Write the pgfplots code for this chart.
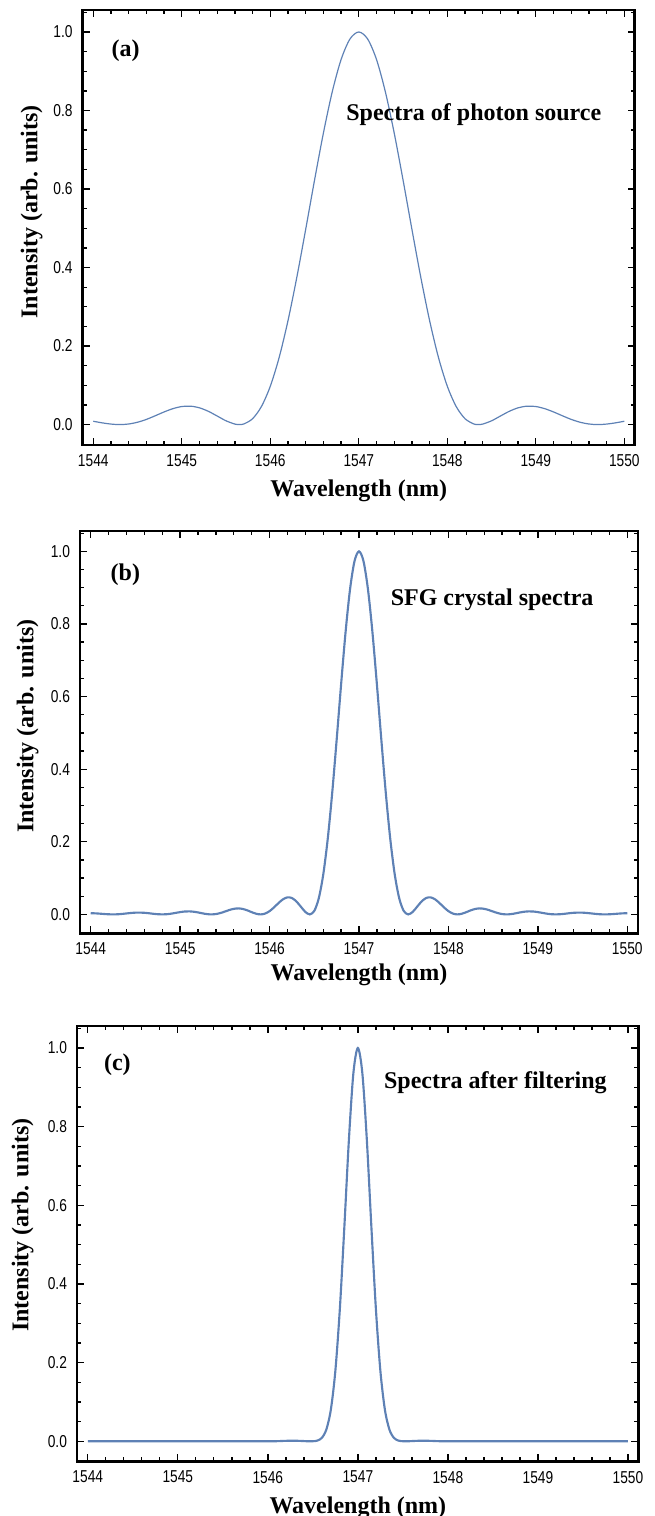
\documentclass[border=0pt]{standalone}
\usepackage{fontspec}
\setmainfont{Liberation Serif}
\newfontfamily\tickfont{Liberation Sans}
\usepackage{graphicx}
\usepackage{pgfplots}
\pgfplotsset{compat=1.18}

\definecolor{mma}{RGB}{94,129,181}
\newcommand{\tl}[1]{{\tickfont\fontsize{12.9}{14}\selectfont\scalebox{0.8}[1]{#1}}}
\newcommand{\bigbold}{\fontsize{18}{20}\selectfont\bfseries}

\pgfplotsset{
  spec/.style={
    scale only axis,
    anchor=north west,
    xmin=1543.88, xmax=1550.12,
    ymin=-0.052, ymax=1.056,
    xtick={1544,1545,1546,1547,1548,1549,1550},
    xticklabels={\tl{1544},\tl{1545},\tl{1546},\tl{1547},\tl{1548},\tl{1549},\tl{1550}},
    ytick={0,0.2,0.4,0.6,0.8,1},
    yticklabels={\tl{0.0},\tl{0.2},\tl{0.4},\tl{0.6},\tl{0.8},\tl{1.0}},
    minor x tick num=4,
    minor ytick={-0.05,0.05,0.1,0.15,0.25,0.3,0.35,0.45,0.5,0.55,0.65,0.7,0.75,0.85,0.9,0.95,1.05},
    tick align=inside,
    major tick length=5.5pt,
    minor tick length=3.2pt,
    tick style={black, line width=1pt},
    axis line style={line width=2.2pt},
    every outer x axis line/.append style={line width=2.2pt},
    every outer y axis line/.append style={line width=2.2pt},
    xticklabel style={yshift=-3.5pt},
    yticklabel style={xshift=-4pt},
    xlabel={Wavelength (nm)},
    ylabel={Intensity (arb. units)},
    label style={font=\bigbold},
    xlabel style={at={(axis description cs:0.5,-0.118)}, anchor=base},
  },
  curve/.style={color=mma, smooth, no markers},
}

\begin{document}
\begin{tikzpicture}

% (a) photon source
\begin{axis}[spec, width=414.2pt, height=326.25pt, at={(62pt,-7.5pt)},
  ylabel style={at={(axis description cs:-0.0822,0.536)}, anchor=base}]
\addplot[curve, line width=0.9pt] coordinates {
(1544.0,0.0085) (1544.1,0.0044) (1544.2,0.0013) (1544.3,0) (1544.4,0.0015)
(1544.5,0.0060) (1544.6,0.0132) (1544.7,0.0225) (1544.8,0.0322) (1544.9,0.0406)
(1545.0,0.0460) (1545.1,0.0469) (1545.2,0.0427) (1545.3,0.0338) (1545.4,0.0218)
(1545.5,0.0096) (1545.6,0.0013) (1545.65,0) (1545.7,0.0015) (1545.8,0.0150)
(1545.9,0.0461) (1546.0,0.0977) (1546.1,0.1710) (1546.2,0.2648) (1546.3,0.3756)
(1546.4,0.4975) (1546.5,0.6228) (1546.6,0.7426) (1546.7,0.8477) (1546.8,0.9299)
(1546.9,0.9821) (1547.0,1)
(1547.1,0.9821) (1547.2,0.9299) (1547.3,0.8477) (1547.4,0.7426) (1547.5,0.6228)
(1547.6,0.4975) (1547.7,0.3756) (1547.8,0.2648) (1547.9,0.1710) (1548.0,0.0977)
(1548.1,0.0461) (1548.2,0.0150) (1548.3,0.0015) (1548.35,0) (1548.4,0.0013)
(1548.5,0.0096) (1548.6,0.0218) (1548.7,0.0338) (1548.8,0.0427) (1548.9,0.0469)
(1549.0,0.0460) (1549.1,0.0406) (1549.2,0.0322) (1549.3,0.0225) (1549.4,0.0132)
(1549.5,0.0060) (1549.6,0.0015) (1549.7,0) (1549.8,0.0013) (1549.9,0.0044)
(1550.0,0.0085)
};
\node[anchor=base west, font=\bigbold] at (axis cs:1544.155,0.938) {(a)};
\node[anchor=base west, font=\bigbold] at (axis cs:1546.806,0.775) {Spectra of photon source};
\end{axis}

% (b) SFG crystal
\begin{axis}[spec, width=418.5pt, height=301.7pt, at={(60pt,-398.25pt)},
  ylabel style={at={(axis description cs:-0.0837,0.515)}, anchor=base}]
\addplot[curve, line width=1.6pt] coordinates {
(1544.00,0.0033) (1544.05,0.0029) (1544.10,0.0021) (1544.15,0.0011) (1544.20,0.0003)
(1544.25,0) (1544.30,0.0003) (1544.35,0.0013) (1544.40,0.0026) (1544.45,0.0039)
(1544.50,0.0048) (1544.55,0.0050) (1544.60,0.0044) (1544.65,0.0032) (1544.70,0.0017)
(1544.75,0.0005) (1544.80,0) (1544.85,0.0005) (1544.90,0.0020) (1544.95,0.0042)
(1545.00,0.0063) (1545.05,0.0079) (1545.10,0.0083) (1545.15,0.0074) (1545.20,0.0054)
(1545.25,0.0029) (1545.30,0.0008) (1545.35,0) (1545.40,0.0010) (1545.45,0.0037)
(1545.50,0.0078) (1545.55,0.0121) (1545.60,0.0153) (1545.65,0.0165) (1545.70,0.0150)
(1545.75,0.0112) (1545.80,0.0062) (1545.85,0.0018) (1545.90,0) (1545.95,0.0022)
(1546.00,0.0090) (1546.05,0.0194) (1546.10,0.0313) (1546.15,0.0416) (1546.20,0.0469)
(1546.25,0.0451) (1546.30,0.0357) (1546.35,0.0212) (1546.40,0.0068) (1546.45,0)
(1546.50,0.0097) (1546.55,0.0442) (1546.60,0.1094) (1546.65,0.2070) (1546.70,0.3337)
(1546.75,0.4805) (1546.80,0.6340) (1546.85,0.7780) (1546.90,0.8959) (1546.95,0.9732)
(1547.00,1)
(1547.05,0.9732) (1547.10,0.8959) (1547.15,0.7780) (1547.20,0.6340) (1547.25,0.4805)
(1547.30,0.3337) (1547.35,0.2070) (1547.40,0.1094) (1547.45,0.0442) (1547.50,0.0097)
(1547.55,0) (1547.60,0.0068) (1547.65,0.0212) (1547.70,0.0357) (1547.75,0.0451)
(1547.80,0.0469) (1547.85,0.0416) (1547.90,0.0313) (1547.95,0.0194) (1548.00,0.0090)
(1548.05,0.0022) (1548.10,0) (1548.15,0.0018) (1548.20,0.0062) (1548.25,0.0112)
(1548.30,0.0150) (1548.35,0.0165) (1548.40,0.0153) (1548.45,0.0121) (1548.50,0.0078)
(1548.55,0.0037) (1548.60,0.0010) (1548.65,0) (1548.70,0.0008) (1548.75,0.0029)
(1548.80,0.0054) (1548.85,0.0074) (1548.90,0.0083) (1548.95,0.0079) (1549.00,0.0063)
(1549.05,0.0042) (1549.10,0.0020) (1549.15,0.0005) (1549.20,0) (1549.25,0.0005)
(1549.30,0.0017) (1549.35,0.0032) (1549.40,0.0044) (1549.45,0.0050) (1549.50,0.0048)
(1549.55,0.0039) (1549.60,0.0026) (1549.65,0.0013) (1549.70,0.0003) (1549.75,0)
(1549.80,0.0003) (1549.85,0.0011) (1549.90,0.0021) (1549.95,0.0029) (1550.00,0.0033)
};
\node[anchor=base west, font=\bigbold] at (axis cs:1544.171,0.919) {(b)};
\node[anchor=base west, font=\bigbold] at (axis cs:1547.303,0.850) {SFG crystal spectra};
\end{axis}

% (c) after filtering
\begin{axis}[spec, width=421.3pt, height=326.8pt, at={(57.75pt,-769.5pt)},
  ylabel style={at={(axis description cs:-0.0867,0.543)}, anchor=base}]
\addplot[curve, line width=1.6pt] coordinates {
(1544.00,0) (1545.00,0) (1546.00,0) (1546.10,0.0003) (1546.20,0.0012)
(1546.30,0.0015) (1546.40,0.0006) (1546.45,0) (1546.50,0.0002) (1546.55,0.0018)
(1546.60,0.0088) (1546.65,0.0300) (1546.70,0.0807) (1546.75,0.1793) (1546.80,0.3374)
(1546.85,0.5456) (1546.90,0.7651) (1546.95,0.9355) (1547.00,1)
(1547.05,0.9355) (1547.10,0.7651) (1547.15,0.5456) (1547.20,0.3374) (1547.25,0.1793)
(1547.30,0.0807) (1547.35,0.0300) (1547.40,0.0088) (1547.45,0.0018) (1547.50,0.0002)
(1547.55,0) (1547.60,0.0006) (1547.70,0.0015) (1547.80,0.0012) (1547.90,0.0003)
(1548.00,0) (1549.00,0) (1550.00,0)
};
\node[anchor=base west, font=\bigbold] at (axis cs:1544.128,0.944) {(c)};
\node[anchor=base west, font=\bigbold] at (axis cs:1547.239,0.898) {Spectra after filtering};
\end{axis}

\pgfresetboundingbox
\path[use as bounding box] (0pt,0pt) rectangle (491.25pt,-1137pt);
\end{tikzpicture}
\end{document}
